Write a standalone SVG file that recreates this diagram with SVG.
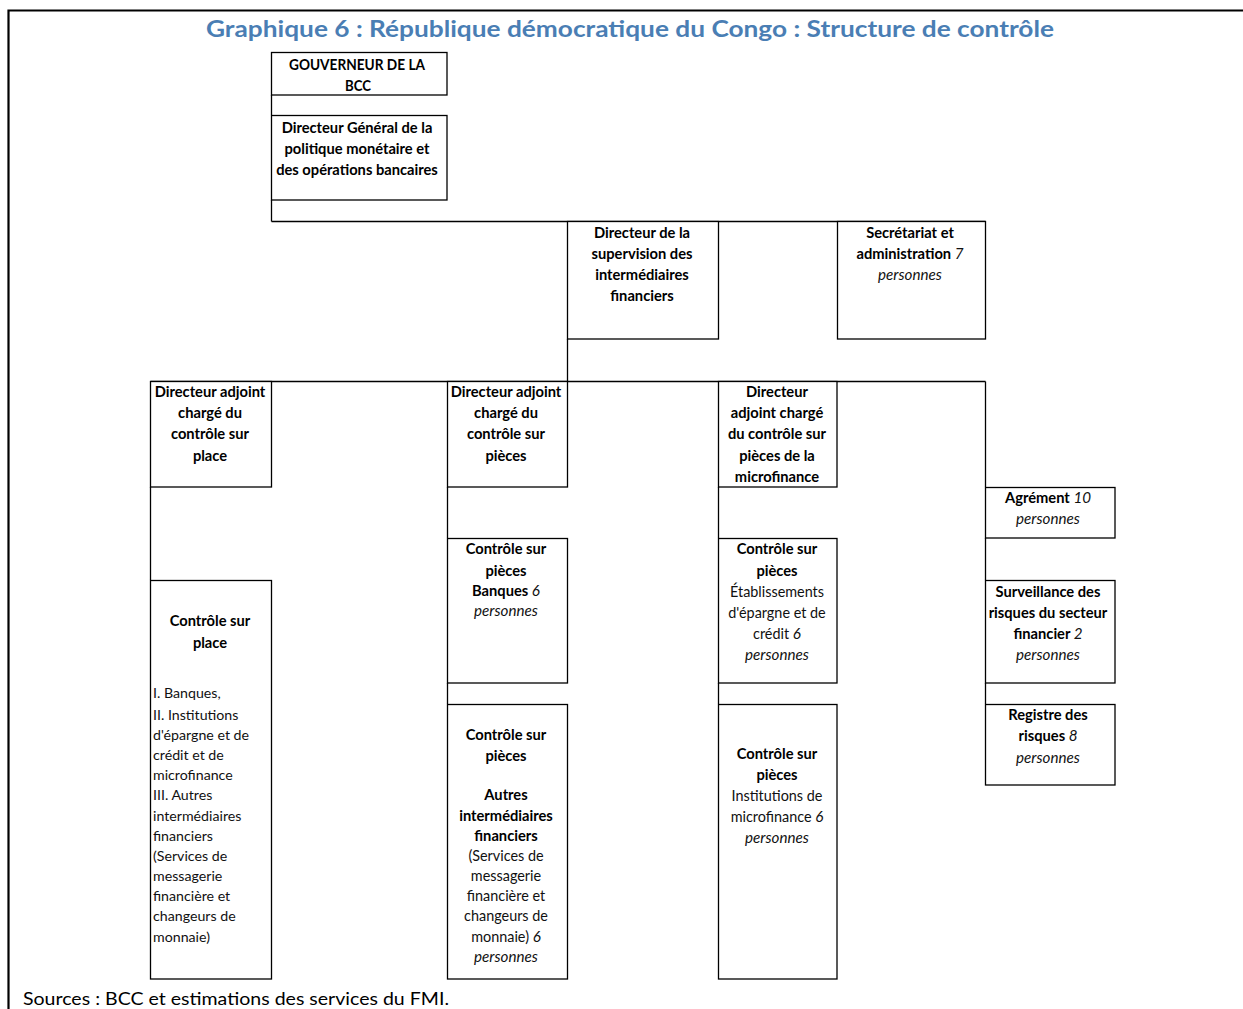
<svg xmlns="http://www.w3.org/2000/svg" width="1243" height="1009" viewBox="0 0 1243 1009">
<style>
.box{fill:#fff;stroke:#000;stroke-width:1.3}
.con line{stroke:#000;stroke-width:1.3}
.frame{stroke:#000;stroke-width:2.2;fill:none}
text{font-family:Lato,"Open Sans","Liberation Sans",sans-serif;font-size:14.7px}
.c{text-anchor:middle;font-weight:bold;fill:#000}
.l{text-anchor:start;fill:#111;font-size:14.2px}
.n{font-weight:normal;fill:#111;font-size:14.4px}
.i{font-style:italic;font-weight:normal;fill:#111;font-size:15.2px}
.title{font-size:23px;font-weight:bold;fill:#4A7EB4;text-anchor:middle}
.src{font-size:18px;fill:#000}
</style>
<rect width="1243" height="1009" fill="#fff"/>
<path class="frame" d="M8.5,1009 V10.5 H1243"/>
<text class="title" x="630" y="37" textLength="848" lengthAdjust="spacingAndGlyphs">Graphique 6 : République démocratique du Congo : Structure de contrôle</text>

<g class="con">
<line x1="271.5" y1="95" x2="271.5" y2="115"/>
<line x1="271.5" y1="200" x2="271.5" y2="221.5"/>
<line x1="271.5" y1="221.5" x2="985.5" y2="221.5"/>
<line x1="567.5" y1="339" x2="567.5" y2="381.5"/>
<line x1="150.5" y1="381.5" x2="985.5" y2="381.5"/>
<line x1="150.5" y1="487" x2="150.5" y2="580"/>
<line x1="447.5" y1="487" x2="447.5" y2="538"/>
<line x1="447.5" y1="683" x2="447.5" y2="704"/>
<line x1="718.5" y1="487" x2="718.5" y2="538"/>
<line x1="718.5" y1="683" x2="718.5" y2="704"/>
<line x1="985.5" y1="381.5" x2="985.5" y2="487"/>
<line x1="985.5" y1="538" x2="985.5" y2="580"/>
<line x1="985.5" y1="683" x2="985.5" y2="704"/>
</g>

<g id="gouverneur">
<rect class="box" x="271.5" y="52.5" width="175.5" height="42.5"/>
<text class="c" x="357" y="70" textLength="136" lengthAdjust="spacingAndGlyphs">GOUVERNEUR DE LA</text>
<text class="c" x="358" y="91" textLength="26" lengthAdjust="spacingAndGlyphs">BCC</text>
</g>

<g id="dg">
<rect class="box" x="271.5" y="115.5" width="175.5" height="84.5"/>
<text class="c" x="357" y="133">Directeur Général de la</text>
<text class="c" x="357" y="154">politique monétaire et</text>
<text class="c" x="357" y="175">des opérations bancaires</text>
</g>

<g id="dir-supervision">
<rect class="box" x="567.5" y="221.5" width="151" height="117.5"/>
<text class="c" x="642" y="238">Directeur de la</text>
<text class="c" x="642" y="259">supervision des</text>
<text class="c" x="642" y="280">intermédiaires</text>
<text class="c" x="642" y="301">financiers</text>
</g>

<g id="secretariat">
<rect class="box" x="837.5" y="221.5" width="148" height="117.5"/>
<text class="c" x="910" y="238">Secrétariat et</text>
<text class="c" x="910" y="259">administration <tspan class="i"> 7</tspan></text>
<text class="c i" x="910" y="280">personnes</text>
</g>

<g id="da-place">
<rect class="box" x="150.5" y="381.5" width="121" height="105.5"/>
<text class="c" x="210" y="397">Directeur adjoint</text>
<text class="c" x="210" y="418">chargé du</text>
<text class="c" x="210" y="439">contrôle sur</text>
<text class="c" x="210" y="461">place</text>
</g>

<g id="da-pieces">
<rect class="box" x="447.5" y="381.5" width="120" height="105.5"/>
<text class="c" x="506" y="397">Directeur adjoint</text>
<text class="c" x="506" y="418">chargé du</text>
<text class="c" x="506" y="439">contrôle sur</text>
<text class="c" x="506" y="461">pièces</text>
</g>

<g id="da-microfinance">
<rect class="box" x="718.5" y="381.5" width="118.5" height="105.5"/>
<text class="c" x="777" y="397">Directeur</text>
<text class="c" x="777" y="418">adjoint chargé</text>
<text class="c" x="777" y="439">du contrôle sur</text>
<text class="c" x="777" y="461">pièces de la</text>
<text class="c" x="777" y="482">microfinance</text>
</g>

<g id="agrement">
<rect class="box" x="985.5" y="487.5" width="129.5" height="50.5"/>
<text class="c" x="1048" y="503">Agrément <tspan class="i">10</tspan></text>
<text class="c i" x="1048" y="524">personnes</text>
</g>

<g id="controle-place">
<rect class="box" x="150.5" y="580.5" width="121" height="398.5"/>
<text class="c" x="210" y="626">Contrôle sur</text>
<text class="c" x="210" y="648">place</text>
<text class="l" x="153" y="698">I. Banques,</text>
<text class="l" x="153" y="720">II. Institutions</text>
<text class="l" x="153" y="740">d'épargne et de</text>
<text class="l" x="153" y="760">crédit et de</text>
<text class="l" x="153" y="780">microfinance</text>
<text class="l" x="153" y="800">III. Autres</text>
<text class="l" x="153" y="821">intermédiaires</text>
<text class="l" x="153" y="841">financiers</text>
<text class="l" x="153" y="861">(Services de</text>
<text class="l" x="153" y="881">messagerie</text>
<text class="l" x="153" y="901">financière et</text>
<text class="l" x="153" y="921">changeurs de</text>
<text class="l" x="153" y="942">monnaie)</text>
</g>

<g id="controle-banques">
<rect class="box" x="447.5" y="538.5" width="120" height="144.5"/>
<text class="c" x="506" y="554">Contrôle sur</text>
<text class="c" x="506" y="576">pièces</text>
<text class="c" x="506" y="596">Banques <tspan class="i">6</tspan></text>
<text class="c i" x="506" y="616">personnes</text>
</g>

<g id="controle-autres">
<rect class="box" x="447.5" y="704.5" width="120" height="274.5"/>
<text class="c" x="506" y="740">Contrôle sur</text>
<text class="c" x="506" y="761">pièces</text>
<text class="c" x="506" y="800">Autres</text>
<text class="c" x="506" y="821">intermédiaires</text>
<text class="c" x="506" y="841">financiers</text>
<text class="c n" x="506" y="861">(Services de</text>
<text class="c n" x="506" y="881">messagerie</text>
<text class="c n" x="506" y="901">financière et</text>
<text class="c n" x="506" y="921">changeurs de</text>
<text class="c n" x="506" y="942">monnaie) <tspan class="i">6</tspan></text>
<text class="c i" x="506" y="962">personnes</text>
</g>

<g id="controle-eec">
<rect class="box" x="718.5" y="538.5" width="118.5" height="144.5"/>
<text class="c" x="777" y="554">Contrôle sur</text>
<text class="c" x="777" y="576">pièces</text>
<text class="c n" x="777" y="597">Établissements</text>
<text class="c n" x="777" y="618">d'épargne et de</text>
<text class="c n" x="777" y="639">crédit <tspan class="i">6</tspan></text>
<text class="c i" x="777" y="660">personnes</text>
</g>

<g id="surveillance">
<rect class="box" x="985.5" y="580.5" width="129.5" height="102.5"/>
<text class="c" x="1048" y="597">Surveillance des</text>
<text class="c" x="1048" y="618">risques du secteur</text>
<text class="c" x="1048" y="639">financier <tspan class="i">2</tspan></text>
<text class="c i" x="1048" y="660">personnes</text>
</g>

<g id="controle-imf">
<rect class="box" x="718.5" y="704.5" width="118.5" height="274.5"/>
<text class="c" x="777" y="759">Contrôle sur</text>
<text class="c" x="777" y="780">pièces</text>
<text class="c n" x="777" y="801">Institutions de</text>
<text class="c n" x="777" y="822">microfinance <tspan class="i"> 6</tspan></text>
<text class="c i" x="777" y="843">personnes</text>
</g>

<g id="registre">
<rect class="box" x="985.5" y="704.5" width="129.5" height="80.5"/>
<text class="c" x="1048" y="720">Registre des</text>
<text class="c" x="1048" y="741">risques <tspan class="i">8</tspan></text>
<text class="c i" x="1048" y="763">personnes</text>
</g>

<text class="src" x="23" y="1005" textLength="426" lengthAdjust="spacingAndGlyphs">Sources : BCC et estimations des services du FMI.</text>
</svg>
